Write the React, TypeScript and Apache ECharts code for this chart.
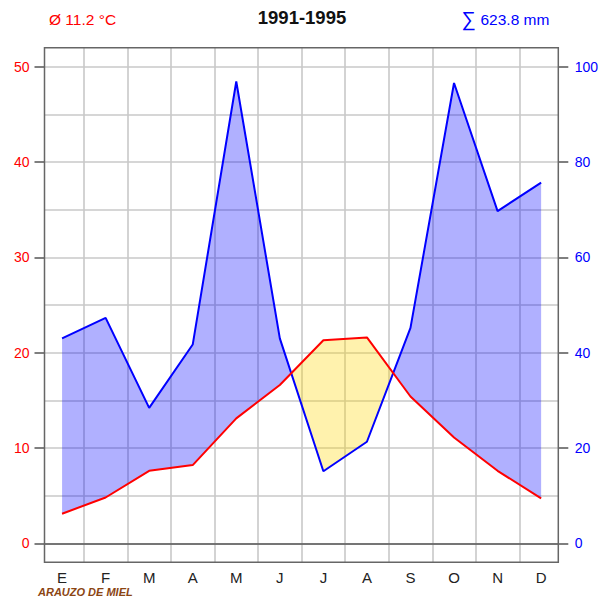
import React, { useEffect, useRef } from "react";
import * as echarts from "echarts";

const months = ["E", "F", "M", "A", "M", "J", "J", "A", "S", "O", "N", "D"];
const temperature = [3.1, 4.8, 7.6, 8.2, 13.1, 16.6, 21.3, 21.6, 15.4, 11.1, 7.6, 4.7];
const precipitation = [43.0, 47.3, 28.4, 41.7, 96.9, 43.0, 15.1, 21.3, 45.2, 96.6, 69.7, 75.7];
const tempTicks = [0, 10, 20, 30, 40, 50];
const precipTicks = [0, 20, 40, 60, 80, 100];
const periodText = "1991-1995";
const meanTempText = "Ø 11.2 °C";
const sumPrecipText = "623.8 mm";
const stationText = "ARAUZO DE MIEL";

const FONT = '"Liberation Sans", Arial, sans-serif';
const GRID_COLOR = "#c8c8c8";
const DARK = "#555";
const BLUE_FILL = "rgba(0,0,255,0.31)";
const YELLOW_FILL = "rgba(255,215,0,0.32)";

function renderFill(_params: any, api: any) {
  const pts = months.map((_, i) => ({
    p: api.coord([i, precipitation[i]]),
    t: api.coord([i, temperature[i] * 2]),
    d: precipitation[i] - temperature[i] * 2,
  }));
  const children: any[] = [];
  let sign = pts[0].d >= 0;
  let P: number[][] = [pts[0].p];
  let T: number[][] = [pts[0].t];
  const close = () => {
    children.push({
      type: "polygon",
      shape: { points: P.concat(T.slice().reverse()) },
      style: { fill: sign ? BLUE_FILL : YELLOW_FILL, stroke: "none" },
    });
  };
  for (let i = 1; i < pts.length; i++) {
    const s = pts[i].d >= 0;
    if (s !== sign) {
      const a = pts[i - 1];
      const b = pts[i];
      const f = a.d / (a.d - b.d);
      const X = [a.p[0] + f * (b.p[0] - a.p[0]), a.p[1] + f * (b.p[1] - a.p[1])];
      P.push(X);
      T.push(X);
      close();
      sign = s;
      P = [X];
      T = [X];
    }
    P.push(pts[i].p);
    T.push(pts[i].t);
  }
  close();
  return { type: "group", children };
}

export default function App() {
  const ref = useRef<HTMLDivElement>(null);
  useEffect(() => {
    const chart = echarts.init(ref.current!, null, { renderer: "svg" });
    const gridLine = { color: GRID_COLOR, width: 1.6 };
    chart.setOption({
      animation: false,
      backgroundColor: "#fff",
      grid: [
        { left: 44.5, top: 66.7, width: 513.8, height: 476.6 },
        { left: 40.3, top: 47.7, width: 522.6, height: 514.6 },
      ],
      xAxis: [
        {
          gridIndex: 0,
          type: "value",
          min: 0,
          max: 1,
          axisLine: { show: true, lineStyle: { color: DARK, width: 1.5 } },
          axisTick: { show: false },
          axisLabel: { show: false },
          splitLine: { show: false },
        },
        {
          gridIndex: 1,
          type: "category",
          data: months,
          boundaryGap: true,
          axisLine: { show: false },
          axisTick: { show: false },
          axisLabel: { color: "#222", fontSize: 15, fontFamily: FONT, margin: 8 },
          splitLine: { show: true, showMinLine: false, showMaxLine: false, lineStyle: gridLine },
        },
      ],
      yAxis: [
        {
          gridIndex: 0,
          type: "value",
          position: "left",
          min: tempTicks[0],
          max: tempTicks[tempTicks.length - 1],
          interval: 10,
          axisLine: { show: false },
          axisTick: { show: true, length: 10, lineStyle: { color: DARK, width: 1.5 } },
          axisLabel: { color: "#ff0000", fontSize: 14, fontFamily: FONT, margin: 15 },
          splitLine: { show: true, lineStyle: gridLine },
          minorTick: { show: false, splitNumber: 2 },
          minorSplitLine: { show: true, lineStyle: gridLine },
        },
        {
          gridIndex: 0,
          type: "value",
          position: "right",
          min: precipTicks[0],
          max: precipTicks[precipTicks.length - 1],
          interval: 20,
          axisLine: { show: false },
          axisTick: { show: true, length: 10, lineStyle: { color: DARK, width: 1.5 } },
          axisLabel: { color: "#0000ff", fontSize: 14, fontFamily: FONT, margin: 16.5 },
          splitLine: { show: false },
        },
        { gridIndex: 1, type: "value", min: -2, max: 52, show: false },
        { gridIndex: 1, type: "value", min: -4, max: 104, show: false },
      ],
      series: [
        {
          type: "custom",
          xAxisIndex: 1,
          yAxisIndex: 3,
          data: [0],
          renderItem: renderFill,
          z: 3,
          silent: true,
        },
        {
          type: "line",
          xAxisIndex: 1,
          yAxisIndex: 3,
          data: precipitation,
          symbol: "none",
          lineStyle: { color: "#0000ff", width: 2 },
          itemStyle: { color: "#0000ff" },
          z: 5,
        },
        {
          type: "line",
          xAxisIndex: 1,
          yAxisIndex: 2,
          data: temperature,
          symbol: "none",
          lineStyle: { color: "#ff0000", width: 2 },
          itemStyle: { color: "#ff0000" },
          z: 6,
        },
      ],
      graphic: [
        {
          type: "rect",
          z: 100,
          shape: { x: 44.5, y: 47.7, width: 513.8, height: 514.6 },
          style: { fill: "none", stroke: "#666", lineWidth: 1.5 },
          silent: true,
        },
        {
          type: "text",
          x: 49,
          y: 19,
          style: { text: meanTempText, fill: "#ff0000", fontSize: 15.5, fontFamily: FONT, align: "left", verticalAlign: "middle" },
        },
        {
          type: "text",
          x: 302,
          y: 17.5,
          style: { text: periodText, fill: "#111", fontSize: 18.5, fontWeight: "bold", fontFamily: FONT, align: "center", verticalAlign: "middle" },
        },
        {
          type: "text",
          x: 461.5,
          y: 18.5,
          style: { text: "∑", fill: "#0000ff", fontSize: 20, fontFamily: FONT, align: "left", verticalAlign: "middle" },
        },
        {
          type: "text",
          x: 480.5,
          y: 19,
          style: { text: sumPrecipText, fill: "#0000ff", fontSize: 15.5, fontFamily: FONT, align: "left", verticalAlign: "middle" },
        },
        {
          type: "text",
          x: 38,
          y: 591.5,
          style: { text: stationText, fill: "#8B4513", fontSize: 11, fontWeight: "bold", fontStyle: "italic", fontFamily: FONT, align: "left", verticalAlign: "middle" },
        },
      ],
    });
    return () => chart.dispose();
  }, []);
  return <div ref={ref} style={{ position: "fixed", left: 0, top: 0, width: 604, height: 605 }} />;
}
